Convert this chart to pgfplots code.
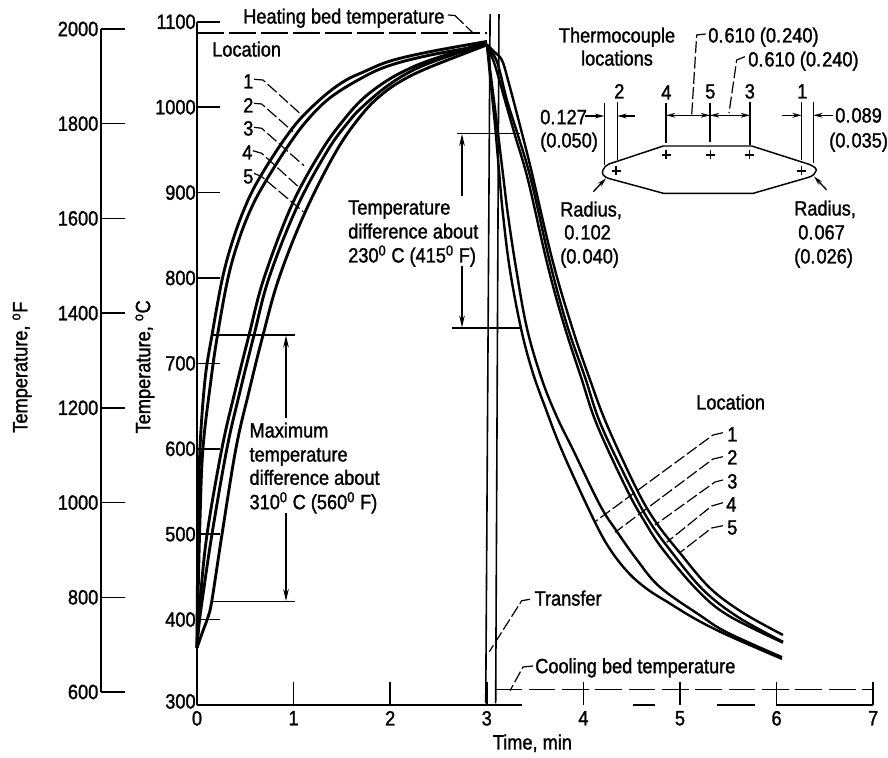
\documentclass[border=0pt]{standalone}
\usepackage{fontspec}
\setmainfont[FakeStretch=0.88,FakeBold=1.4]{Liberation Sans}
\usepackage{pgfplots}
\pgfplotsset{compat=1.18}
\usetikzlibrary{arrows.meta}
\newcommand{\T}[3]{\node[anchor=base west,inner sep=0pt] at (#1,{#2+7.5}) {#3};}
\newcommand{\dk}{\kern0.8pt}
\begin{document}
\begin{tikzpicture}[font=\fontsize{15.5}{19}\selectfont,
  lead/.style={line width=0.9pt,dash pattern=on 9pt off 2.5pt},
  fine/.style={line width=1.05pt},
  dim/.style={line width=1.05pt,-{Stealth[length=9pt,width=4.2pt]}},
  dims/.style={line width=1pt,-{Stealth[length=7pt,width=3.6pt]}}]
\path[use as bounding box] (0,0) rectangle (666pt,567.75pt);

% Fahrenheit scale
\begin{axis}[at={(75.75pt,48.75pt)},anchor=south west,scale only axis,width=18pt,height=497.25pt,
  xmin=0,xmax=1,ymin=600,ymax=2000,
  axis y line=left,axis x line=none,axis line style={-,line width=1.3pt},
  tick align=inside,major tick length=18pt,
  ytick={600,800,1000,1200,1400,1600,1800,2000},
  tick style={line width=1.1pt,black},
  /pgf/number format/assume math mode=true,/pgf/number format/1000 sep={},
  yticklabel style={xshift=1.5pt},
  ylabel={Temperature, \textsuperscript{o}F},
  every axis y label/.style={at={(rel axis cs:-3.29,0.49)},rotate=90,anchor=center}]
\addplot[draw=none] coordinates {(0,600)(1,2000)};
\end{axis}

% Main axis
\begin{axis}[at={(147.75pt,39pt)},anchor=south west,scale only axis,width=507.15pt,height=512.4pt,
  xmin=0,xmax=7,ymin=300,ymax=1100,clip=false,
  axis y line=left,axis x line=bottom,
  y axis line style={-,line width=1.4pt},
  x axis line style={-,line width=1pt,dash pattern=on 243.75pt off 83.25pt on 16.5pt off 46.5pt on 28.5pt off 15.75pt on 72.75pt},
  tick align=inside,major tick length=17.5pt,
  xtick={0,1,2,3,4,5,6,7},ytick={300,400,500,600,700,800,900,1000,1100},
  yticklabels={\raisebox{5.5pt}{300},400,500,600,700,800,900,1000,1100},
  tick style={line width=1.1pt,black},
  /pgf/number format/assume math mode=true,/pgf/number format/1000 sep={},
  xticklabel style={yshift=-1pt},
  yticklabel style={xshift=2.5pt},
  xlabel={Time, min},
  ylabel={Temperature, \textsuperscript{o}C},
  every axis x label/.style={at={(rel axis cs:0.496,-0.056)},anchor=center},
  every axis y label/.style={at={(rel axis cs:-0.077,0.495)},rotate=90,anchor=center},
  heat/.style={black,line width=2.15pt,smooth,tension=0.6},
  cool/.style={black,line width=1.8pt,smooth,tension=0.6}]

% Bed temperatures
\addplot[black,line width=1.2pt,dash pattern=on 20pt off 4pt] coordinates {(0,1087)(3,1087)};
\addplot[black,line width=1.2pt,dash pattern=on 20pt off 5pt] coordinates {(3.09,318)(7,318)};

% Transfer
\addplot[black,line width=1.2pt] coordinates {(3.034,1109)(2.989,302)};
\addplot[black,line width=1.2pt] coordinates {(3.126,1109)(3.092,302)};

% Heating, location 1
\addplot[heat] coordinates {(0,367)(0.003,423)(0.013,517)(0.031,601)(0.083,681)(0.155,733)(0.264,800)(0.373,845)(0.497,883)(0.631,914)(0.859,955)(1.066,986)(1.325,1014)(1.532,1031)(1.718,1041)(1.998,1054)(2.412,1065)(3.002,1077)};
% location 2
\addplot[heat] coordinates {(0,367)(0.01,423)(0.031,517)(0.062,601)(0.145,681)(0.212,733)(0.321,800)(0.434,845)(0.559,881)(0.694,910)(0.921,951)(1.128,983)(1.377,1011)(1.718,1035)(1.998,1049)(2.412,1061)(3.002,1073)};
% location 3
\addplot[heat] coordinates {(0,367)(0.01,394)(0.031,421)(0.104,500)(0.259,601)(0.393,667)(0.538,733)(0.694,800)(0.984,886)(1.294,950)(1.532,987)(1.718,1010)(1.925,1028)(2.122,1041)(2.412,1055)(3.002,1076)};
% location 4
\addplot[heat] coordinates {(0,367)(0.021,394)(0.052,421)(0.155,500)(0.311,601)(0.445,667)(0.59,733)(0.745,800)(1.035,883)(1.356,950)(1.584,985)(1.718,1001)(1.925,1021)(2.134,1037)(2.412,1052)(3.002,1075)};
% location 5
\addplot[heat] coordinates {(0,367)(0.062,387)(0.114,403)(0.155,423)(0.259,500)(0.404,601)(0.538,667)(0.683,733)(0.849,800)(1.119,877)(1.449,950)(1.718,993)(1.925,1016)(2.134,1032)(2.412,1047)(3.002,1073)};

% Cooling, location 1
\addplot[cool] coordinates {(3.002,1073)(3.043,1026)(3.085,979)(3.126,926)(3.168,874)(3.24,809)(3.354,741)(3.468,692)(3.603,649)(3.789,595)(4.12,514)(4.296,479)(4.482,453)(4.669,435)(4.865,421)(5.155,401)(5.487,382)(6.056,354)};
% location 2
\addplot[cool] coordinates {(3.002,1073)(3.054,1026)(3.106,979)(3.168,921)(3.219,874)(3.302,812)(3.416,741)(3.571,681)(3.727,637)(3.892,599)(4.172,534)(4.348,503)(4.555,470)(4.793,438)(5.207,405)(5.487,385)(6.056,356)};
% location 3
\addplot[cool] coordinates {(3.002,1073)(3.085,1049)(3.188,1008)(3.292,967)(3.426,915)(3.623,818)(3.789,749)(3.975,684)(4.141,628)(4.451,552)(4.638,514)(4.824,482)(5.176,435)(5.497,405)(6.066,373)};
% location 4
\addplot[cool] coordinates {(3.002,1073)(3.106,1053)(3.209,1008)(3.323,967)(3.458,915)(3.654,818)(3.83,745)(4.016,684)(4.182,628)(4.503,552)(4.689,514)(4.914,479)(5.238,435)(5.6,403)(6.066,374)};
% location 5
\addplot[cool] coordinates {(3.002,1073)(3.085,1064)(3.157,1055)(3.219,1032)(3.363,970)(3.465,924)(3.686,818)(3.892,739)(4.068,681)(4.244,628)(4.555,552)(4.751,514)(5.0,478)(5.31,437)(5.652,408)(6.066,382)};
\end{axis}

% Annotations, in image pixels
\begin{scope}[shift={(0,567.75pt)},x=0.75pt,y=-0.75pt]
\T{243}{16}{Heating bed temperature}
\draw[lead,solid] (448,15)--(455,15.5);
\draw[lead] (455,15.5)--(473,33);
\T{212}{49}{Location}
\T{243}{81}{1}\T{243}{105}{2}\T{243}{128}{3}\T{242}{152}{4}\T{243}{176}{5}
\draw[lead] (254,79.3)--(263,80)--(301.7,115);
\draw[lead] (254,103.3)--(261.7,104)--(293,131.7);
\draw[lead] (254,127.3)--(261.7,128.3)--(304,165.7);
\draw[lead] (252.7,150.7)--(261.7,153.3)--(300,188.3);
\draw[lead] (254,173.3)--(261.7,176.7)--(303.3,211.7);

% Temperature difference
\draw[fine] (456.7,133.7)--(520,133.7);
\draw[fine] (451.7,328)--(520,328);
\draw[dim] (462,196)--(462,134);
\draw[dim] (462,266)--(462,327.5);
\T{348}{207}{Temperature}
\T{348}{231}{difference about}
\T{348}{255}{230\textsuperscript{0} C (415\textsuperscript{0} F)}

% Maximum temperature difference
\draw[fine] (213,335)--(295,335);
\draw[fine] (211.7,601.7)--(295,601.7);
\draw[dim] (286,418)--(286,335.5);
\draw[dim] (286,513)--(286,601);
\T{249.3}{430}{Maximum}
\T{249.3}{454}{temperature}
\T{249.3}{477.3}{difference about}
\T{249.3}{501.7}{310\textsuperscript{0} C (560\textsuperscript{0} F)}

% Thermocouple inset
\node[anchor=base,inner sep=0pt] at (617,42.5) {Thermocouple};
\node[anchor=base,inner sep=0pt] at (617,65.5) {locations};
\T{708}{35}{0.\dk 610 (0.\dk 240)}
\T{748}{59}{0.\dk 610 (0.\dk 240)}
\draw[lead] (705.7,34)--(696.7,35)--(691.7,115);
\draw[lead] (745,56.7)--(736.7,60)--(729,113);
\T{614}{91}{2}\T{661}{92}{4}\T{705}{91}{5}\T{744.5}{91}{3}\T{797}{91}{1}
\draw[fine] (604.3,103.3)--(604.3,165);
\draw[fine] (617.3,101.7)--(617.3,160);
\draw[fine] (666,103.3)--(666,143.3);
\draw[fine] (710,103)--(710,141.7);
\draw[fine] (750,101.7)--(750,145);
\draw[fine] (801.7,101.7)--(801.7,160);
\draw[fine] (813.3,101.7)--(813.3,163.3);
\draw[fine] (666,115.3)--(750,115.3);
\draw[dims] (680,115.3)--(666,115.3);
\draw[dims] (696,115.3)--(710,115.3);
\draw[dims] (724,115.3)--(710,115.3);
\draw[dims] (736,115.3)--(750,115.3);
\draw[dims] (585,116)--(604.3,116);
\draw[dims] (635,116)--(617.3,116);
\draw[dims] (781.7,115.3)--(801.7,115.3);
\draw[dims] (833.3,115.3)--(813.3,115.3);
\T{540}{116.7}{0.\dk 127}
\T{540}{140}{(0.050)}
\T{835}{115}{0.\dk 089}
\T{829}{140}{(0.\dk 035)}
\draw[line width=1.1pt] (663.3,146)--(751.7,146)--(808,164) .. controls (815,166.5) and (817,169) .. (816,171) .. controls (815,174) and (813,176) .. (808,177.5)--(753.3,193.3)--(663.3,193.3)--(609,178.5) .. controls (604,177) and (601,174) .. (603,170) .. controls (604,167) and (606,165.5) .. (609,164)--cycle;
\foreach \px/\py in {616/171,666/155,710.7/155,749.3/155,801.7/171}{
  \draw[line width=1pt] (\px-4.5,\py)--(\px+4.5,\py) (\px,\py-4.5)--(\px,\py+4.5);}
\draw[dims] (593.3,191.7)--(606,178.3);
\draw[dims] (826.7,190)--(814,176.5);
\T{560}{209}{Radius,}
\T{564}{232}{0.\dk 102}
\T{560}{256}{(0.\dk 040)}
\T{794}{208}{Radius,}
\T{798}{232}{0.\dk 067}
\T{794}{256}{(0.\dk 026)}

% Cooling labels
\T{696}{402}{Location}
\T{727}{434}{1}\T{727}{457}{2}\T{727}{481}{3}\T{726}{504}{4}\T{727}{527}{5}
\draw[lead] (723,432.7)--(713,435)--(595,521.7);
\draw[lead] (723,456.7)--(713,459)--(615,532.3);
\draw[lead] (723,480)--(715,482)--(655,525);
\draw[lead] (723,502.7)--(711.7,506)--(666.7,542.3);
\draw[lead] (723,525.7)--(711.7,528)--(679,553.3);

\T{534.3}{598}{Transfer}
\draw[lead] (530,599.3)--(521.7,600.7)--(489.3,651.7);
\T{535}{665.7}{Cooling bed temperature}
\draw[lead] (533,666)--(523,667)--(510,690.7);
\end{scope}
\end{tikzpicture}
\end{document}
